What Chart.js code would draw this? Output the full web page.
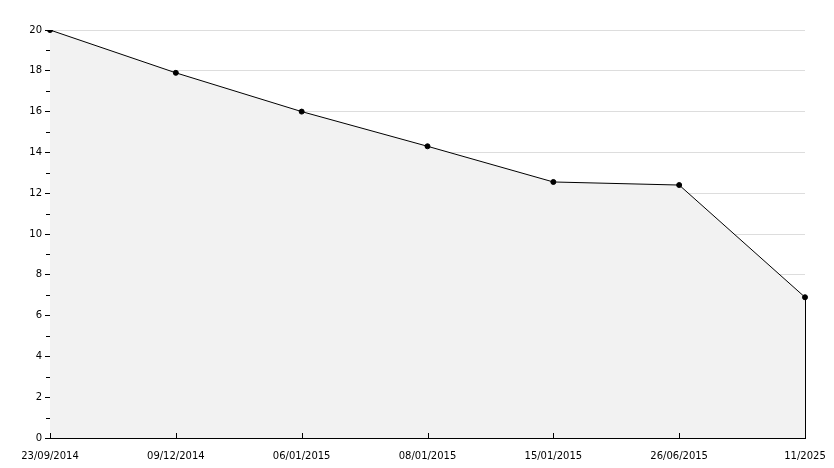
<!DOCTYPE html>
<html>
<head>
<meta charset="utf-8">
<script src="https://cdn.jsdelivr.net/npm/chart.js@4"></script>
<style>body{margin:0;background:#fff}</style>
</head>
<body>
<canvas id="c" width="834" height="468"></canvas>
<script>
const labels = ['23/09/2014','09/12/2014','06/01/2015','08/01/2015','15/01/2015','26/06/2015','11/2025'];
const values = [20, 17.9, 16, 14.3, 12.55, 12.4, 6.9];

// axis decorations: minor y ticks, inward x ticks, closing right edge
const decor = {
  id: 'decor',
  afterDatasetsDraw(chart) {
    const { ctx, scales: { x, y } } = chart;
    ctx.save();
    ctx.strokeStyle = '#000';
    ctx.lineWidth = 1;
    ctx.beginPath();
    for (let v = 1; v < 20; v += 2) {
      const py = Math.round(y.getPixelForValue(v)) + 0.5;
      ctx.moveTo(x.left - 4, py); ctx.lineTo(x.left, py);
    }
    for (let i = 0; i < labels.length; i++) {
      const px = Math.round(x.getPixelForValue(i)) + 0.5;
      ctx.moveTo(px, y.bottom); ctx.lineTo(px, y.bottom - 5);
    }
    const rx = Math.round(x.getPixelForValue(labels.length - 1)) + 0.5;
    ctx.moveTo(rx, y.getPixelForValue(values[values.length - 1]));
    ctx.lineTo(rx, y.bottom);
    ctx.stroke();
    ctx.restore();
  }
};

new Chart(document.getElementById('c'), {
  type: 'line',
  data: {
    labels,
    datasets: [{
      data: values,
      borderColor: '#000',
      borderWidth: 1,
      backgroundColor: '#f2f2f2',
      fill: 'origin',
      tension: 0,
      pointRadius: 2.5,
      pointBackgroundColor: '#000',
      pointBorderColor: '#000'
    }]
  },
  options: {
    responsive: false,
    animation: false,
    layout: { padding: { top: 30, right: 29, left: 0, bottom: 0 } },
    plugins: { legend: { display: false }, tooltip: { enabled: false } },
    scales: {
      x: {
        offset: false,
        grid: { display: false },
        border: { color: '#000' },
        ticks: { color: '#000', font: { family: 'DejaVu Sans', size: 10 }, maxRotation: 0, autoSkip: false, padding: 4 },
        afterFit: s => { s.height = 30; }
      },
      y: {
        min: 0, max: 20,
        grid: { color: '#dddddd', tickLength: 5, tickColor: '#000' },
        border: { color: '#000' },
        ticks: { stepSize: 2, color: '#000', font: { family: 'DejaVu Sans', size: 10 }, padding: 3 },
        afterFit: s => { s.width = 50; }
      }
    }
  },
  plugins: [decor]
});
</script>
</body>
</html>
